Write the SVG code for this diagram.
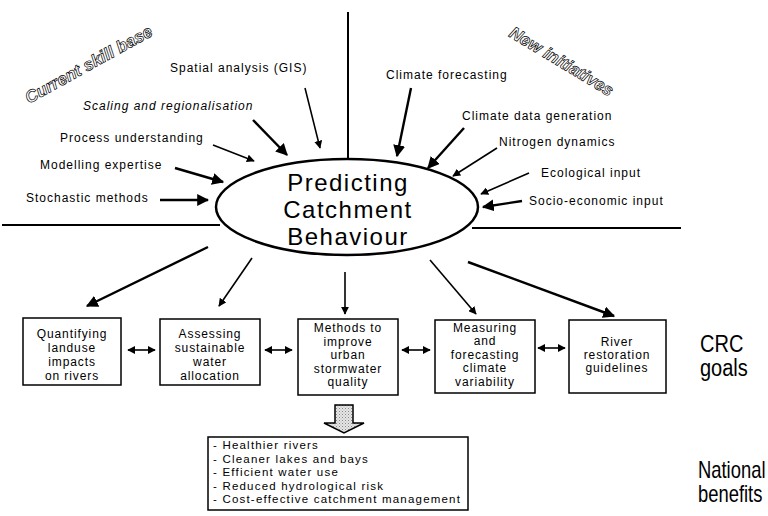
<svg xmlns="http://www.w3.org/2000/svg" width="768" height="516" viewBox="0 0 768 516">
<defs>
<style>
.lbl{font-family:"Liberation Sans",Arial,sans-serif;font-size:12px;letter-spacing:1px;fill:#000}
.lbli{font-family:"Liberation Sans",Arial,sans-serif;font-size:12px;letter-spacing:1px;font-style:italic;fill:#000}
.box{fill:#fff;stroke:#000;stroke-width:1.5}
.bt{font-family:"Liberation Sans",Arial,sans-serif;font-size:12px;letter-spacing:0.9px;fill:#000;text-anchor:middle}
.big{font-family:"Liberation Sans",Arial,sans-serif;font-size:24px;letter-spacing:1.5px;fill:#000;text-anchor:middle}
.side{font-family:"Liberation Sans",Arial,sans-serif;font-size:23px;fill:#000}
.hol{font-family:"Liberation Sans",Arial,sans-serif;font-size:17px;font-weight:bold;font-style:italic;fill:#fff;stroke:#000;stroke-width:0.7}
.ln{stroke:#000;stroke-width:2;fill:none}
.ar{stroke:#000;stroke-width:1.6;fill:none;marker-end:url(#ah)}
.arb{stroke:#000;stroke-width:2.4;fill:none;marker-end:url(#ah)}
.dar{stroke:#000;stroke-width:1.6;fill:none;marker-start:url(#ahs);marker-end:url(#ah)}
.li{font-family:"Liberation Sans",Arial,sans-serif;font-size:11.5px;letter-spacing:1.2px;fill:#000}
</style>
<marker id="ah" viewBox="0 0 10 10" refX="9" refY="5" markerWidth="5" markerHeight="5" markerUnits="strokeWidth" orient="auto">
<path d="M0,0 L10,5 L0,10 z" fill="#000"/>
</marker>
<marker id="ahs" viewBox="0 0 10 10" refX="1" refY="5" markerWidth="5" markerHeight="5" markerUnits="strokeWidth" orient="auto">
<path d="M10,0 L0,5 L10,10 z" fill="#000"/>
</marker>
<pattern id="dots" width="3" height="3" patternUnits="userSpaceOnUse">
<rect width="3" height="3" fill="#e6e6e6"/>
<rect width="1" height="1" fill="#888"/>
<rect x="1.5" y="1.5" width="1" height="1" fill="#aaa"/>
</pattern>
</defs>
<rect width="768" height="516" fill="#fff"/>

<g id="axes">
<line class="ln" x1="348" y1="12" x2="348" y2="160"/>
<line class="ln" x1="2" y1="225" x2="220" y2="225"/>
<line class="ln" x1="472" y1="228" x2="681" y2="228"/>
</g>

<g id="headings">
<text class="hol" transform="translate(29,104) rotate(-29)">Current skill base</text>
<text class="hol" transform="translate(508,36) rotate(31)">New initiatives</text>
</g>

<g id="center">
<ellipse cx="347" cy="207" rx="131" ry="48" fill="#fff" stroke="#000" stroke-width="2.5"/>
<text class="big" x="348" y="191">Predicting</text>
<text class="big" x="348" y="218">Catchment</text>
<text class="big" x="348" y="245">Behaviour</text>
</g>

<g id="inputs-left">
<text class="lbl" x="170" y="72">Spatial analysis (GIS)</text>
<text class="lbli" x="83" y="110">Scaling and regionalisation</text>
<text class="lbl" x="60" y="142">Process understanding</text>
<text class="lbl" x="40" y="169">Modelling expertise</text>
<text class="lbl" x="26" y="202">Stochastic methods</text>
</g>

<g id="inputs-right">
<text class="lbl" x="386" y="79">Climate forecasting</text>
<text class="lbl" x="462" y="120">Climate data generation</text>
<text class="lbl" x="499" y="146">Nitrogen dynamics</text>
<text class="lbl" x="541" y="177">Ecological input</text>
<text class="lbl" x="529" y="205">Socio-economic input</text>
</g>

<g id="box1"><rect class="box" x="23" y="318" width="98" height="67"/>
<text class="bt" x="72" y="338">Quantifying</text><text class="bt" x="72" y="352">landuse</text><text class="bt" x="72" y="366">impacts</text><text class="bt" x="72" y="380">on rivers</text></g>
<g id="box2"><rect class="box" x="160" y="319" width="100" height="66"/>
<text class="bt" x="210" y="338">Assessing</text><text class="bt" x="210" y="352">sustainable</text><text class="bt" x="210" y="366">water</text><text class="bt" x="210" y="380">allocation</text></g>
<g id="box3"><rect class="box" x="298" y="319" width="100" height="76"/>
<text class="bt" x="348" y="332">Methods to</text><text class="bt" x="348" y="345.5">improve</text><text class="bt" x="348" y="359">urban</text><text class="bt" x="348" y="372.5">stormwater</text><text class="bt" x="348" y="386">quality</text></g>
<g id="box4"><rect class="box" x="435" y="320" width="100" height="73"/>
<text class="bt" x="485" y="332">Measuring</text><text class="bt" x="485" y="345">and</text><text class="bt" x="485" y="358.5">forecasting</text><text class="bt" x="485" y="372">climate</text><text class="bt" x="485" y="385.5">variability</text></g>
<g id="box5"><rect class="box" x="569" y="320" width="97" height="73"/>
<text class="bt" x="617" y="346">River</text><text class="bt" x="617" y="359">restoration</text><text class="bt" x="617" y="372">guidelines</text></g>

<g id="crc-goals"><text class="side" transform="translate(700,352) scale(0.87,1)">CRC</text><text class="side" transform="translate(700,376) scale(0.87,1)">goals</text></g>
<g id="national-benefits"><text class="side" transform="translate(698,478) scale(0.8,1)">National</text><text class="side" transform="translate(698,502) scale(0.8,1)">benefits</text></g>

<g id="benefits">
<rect class="box" x="208" y="437" width="260" height="73" stroke-width="1.2"/>
<text class="li" x="213" y="449">- Healthier rivers</text>
<text class="li" x="213" y="462.5">- Cleaner lakes and bays</text>
<text class="li" x="213" y="476">- Efficient water use</text>
<text class="li" x="213" y="489.5">- Reduced hydrological risk</text>
<text class="li" x="213" y="503">- Cost-effective catchment management</text>
</g>

<g id="connectors">
<line class="ar" x1="305" y1="88" x2="320" y2="148"/>
<line class="arb" x1="253" y1="120" x2="287" y2="155"/>
<line class="ar" x1="213" y1="145" x2="254" y2="161"/>
<line class="arb" x1="175" y1="168" x2="223" y2="182"/>
<line class="arb" x1="160" y1="200" x2="208" y2="200"/>
<line class="arb" x1="411" y1="88" x2="397" y2="156"/>
<line class="arb" x1="464" y1="128" x2="428" y2="168"/>
<line class="ar" x1="497" y1="148" x2="453" y2="176"/>
<line class="ar" x1="529" y1="173" x2="481" y2="194"/>
<line class="arb" x1="522" y1="201" x2="483" y2="207"/>
<line class="arb" x1="208" y1="247" x2="87" y2="306"/>
<line class="ar" x1="252" y1="258" x2="219" y2="306"/>
<line class="ar" x1="345" y1="272" x2="345" y2="314"/>
<line class="ar" x1="430" y1="260" x2="476" y2="314"/>
<line class="arb" x1="468" y1="262" x2="614" y2="316"/>
<line class="dar" x1="128" y1="350" x2="155" y2="350"/>
<line class="dar" x1="265" y1="350" x2="292" y2="350"/>
<line class="dar" x1="402" y1="350" x2="430" y2="350"/>
<line class="dar" x1="538" y1="348" x2="565" y2="348"/>
<path d="M335,405 L353,405 L353,423 L364,423 L344,433 L324,423 L335,423 Z" fill="url(#dots)" stroke="#000" stroke-width="1.5"/>
</g>
</svg>
